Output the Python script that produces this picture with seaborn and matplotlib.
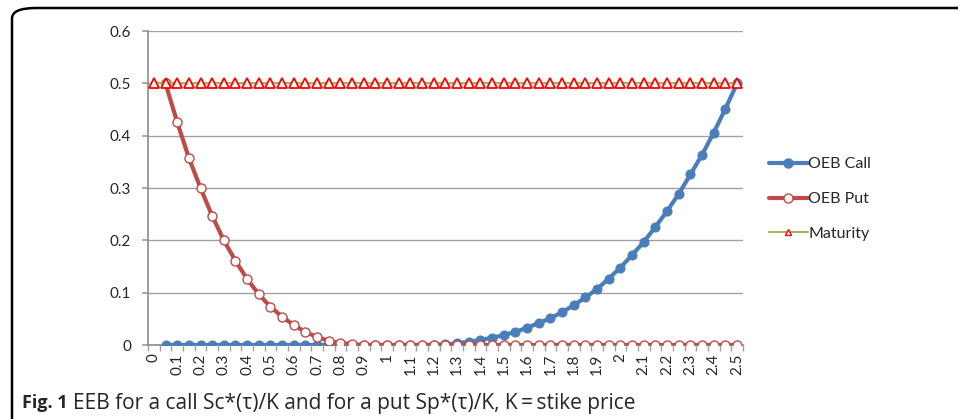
import numpy as np
import pandas as pd
import matplotlib
matplotlib.use("Agg")
import matplotlib.pyplot as plt
import seaborn as sns
from matplotlib.patches import FancyBboxPatch
from matplotlib.lines import Line2D

sns.set_theme(style="white")
plt.rcParams['font.family'] = ['Lato', 'DejaVu Sans']

# x categories (S/K), 0 to 2.5 step 0.05
categories = ["0", "0.05", "0.1", "0.15", "0.2", "0.25", "0.3", "0.35", "0.4", "0.45",
              "0.5", "0.55", "0.6", "0.65", "0.7", "0.75", "0.8", "0.85", "0.9", "0.95",
              "1", "1.05", "1.1", "1.15", "1.2", "1.25", "1.3", "1.35", "1.4", "1.45",
              "1.5", "1.55", "1.6", "1.65", "1.7", "1.75", "1.8", "1.85", "1.9", "1.95",
              "2", "2.05", "2.1", "2.15", "2.2", "2.25", "2.3", "2.35", "2.4", "2.45", "2.5"]

# OEB call, from 0.05 to 2.5
oeb_call = [0, 0, 0, 0, 0, 0, 0, 0, 0, 0,
            0, 0, 0, 0, 0, 0, 0, 0, 0, 0,
            0, 0, 0, 0.0005, 0.0013, 0.0032, 0.0064, 0.0096, 0.014, 0.019,
            0.025, 0.033, 0.042, 0.051, 0.063, 0.076, 0.091, 0.107, 0.127, 0.148,
            0.172, 0.197, 0.226, 0.256, 0.289, 0.326, 0.364, 0.406, 0.452, 0.5]

# OEB put, from 0.05 to 2.5
oeb_put = [0.5, 0.426, 0.358, 0.300, 0.247, 0.200, 0.161, 0.126, 0.097, 0.073,
           0.054, 0.038, 0.025, 0.015, 0.008, 0.004, 0.0015, 0, 0, 0,
           0, 0, 0, 0, 0, 0, 0, 0, 0, 0,
           0, 0, 0, 0, 0, 0, 0, 0, 0, 0,
           0, 0, 0, 0, 0, 0, 0, 0, 0, 0]

maturity = [0.5] * len(categories)

idx = np.arange(len(categories))
df = pd.DataFrame({
    "pos": idx,
    "call": [np.nan] + oeb_call,
    "put": [np.nan] + oeb_put,
    "maturity": maturity,
})

fig = plt.figure(figsize=(9.58, 4.19), dpi=100)
ax = fig.add_axes([0.1545, 0.1766, 0.621, 0.749])

sns.lineplot(data=df, x="pos", y="call", ax=ax, color="#4A7EBB", linewidth=3.0,
             marker="o", markersize=6.5, markeredgecolor="#4A7EBB", zorder=3)
sns.lineplot(data=df, x="pos", y="put", ax=ax, color="#BE4B48", linewidth=3.0,
             marker="o", markersize=6.5, markerfacecolor="white",
             markeredgecolor="#BE4B48", markeredgewidth=1.0, zorder=4)
sns.lineplot(data=df, x="pos", y="maturity", ax=ax, color="#9BBB59", linewidth=1.5,
             marker="^", markersize=6.5, markerfacecolor="white",
             markeredgecolor="#FF0000", markeredgewidth=1.3, zorder=5)

ax.set_xlim(-0.5, len(categories) - 0.5)
ax.set_ylim(0, 0.6)
ax.set_yticks(np.arange(0, 0.61, 0.1))
ax.set_yticklabels(["0", "0.1", "0.2", "0.3", "0.4", "0.5", "0.6"], fontsize=11)
ax.yaxis.grid(True, color="#A0A0A0", linewidth=1.0)
ax.set_axisbelow(True)

ax.set_xticks(idx[::2])
ax.set_xticklabels(categories[::2], rotation=90, fontsize=11)
ax.set_xticks(np.arange(-0.5, len(categories), 1), minor=True)
ax.tick_params(axis="x", which="major", length=0, pad=6)
ax.tick_params(axis="x", which="minor", length=4, color="#A0A0A0", direction="out", bottom=True)
ax.tick_params(axis="y", length=4, color="#A0A0A0", direction="out", left=True, pad=8)
ax.set_xlabel("")
ax.set_ylabel("")

for side in ["top", "right"]:
    ax.spines[side].set_visible(False)
for side in ["left", "bottom"]:
    ax.spines[side].set_color("#8C8C8C")
    ax.spines[side].set_linewidth(1.2)

handles = [
    Line2D([], [], color="#4A7EBB", linewidth=3.0, marker="o", markersize=6.5),
    Line2D([], [], color="#BE4B48", linewidth=3.0, marker="o", markersize=6.5,
           markerfacecolor="white", markeredgewidth=1.0),
    Line2D([], [], color="#9BBB59", linewidth=1.5, marker="^", markersize=5,
           markerfacecolor="white", markeredgecolor="#FF0000"),
]
fig.legend(handles, ["OEB Call", "OEB Put", "Maturity"], loc="center left",
           bbox_to_anchor=(0.788, 0.525), frameon=False, fontsize=11.5,
           handlelength=2.4, handletextpad=0.05, labelspacing=1.3)

# rounded frame round the figure
frame = FancyBboxPatch((12 / 958, -0.1), 1.2, 1.1 - 8 / 419,
                       boxstyle="round,pad=0,rounding_size=0.025",
                       transform=fig.transFigure, fill=False,
                       edgecolor="black", linewidth=1.8, clip_on=False)
fig.patches.append(frame)

fig.text(22 / 958, 16 / 419, "Fig. 1", fontsize=13, fontweight="bold",
         family=["Open Sans", "DejaVu Sans"], va="center")
fig.text(73 / 958, 16 / 419, "EEB for a call Sc*(τ)/K and for a put Sp*(τ)/K, K\u2009=\u2009stike price",
         fontsize=15.0, family=["Open Sans", "DejaVu Sans"], va="center")

fig.savefig("out.png", dpi=100)
